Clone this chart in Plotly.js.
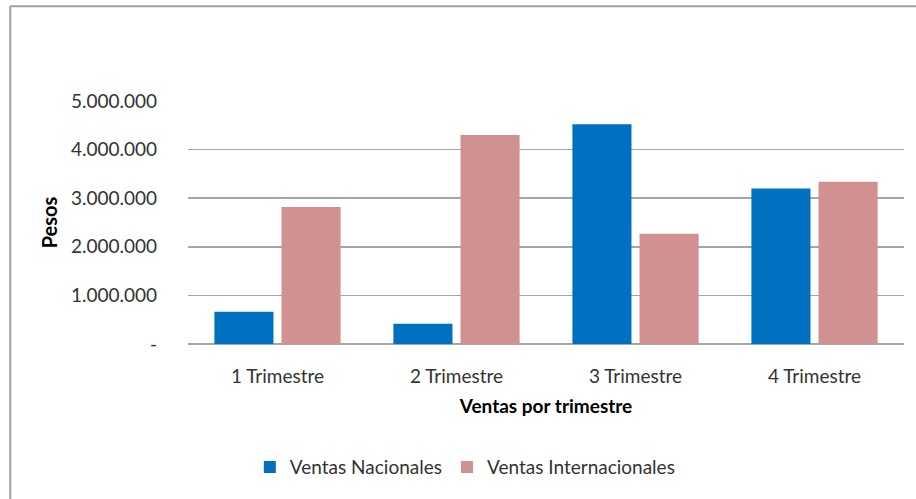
<!DOCTYPE html>
<html>
<head>
<meta charset="utf-8">
<script src="https://cdn.plot.ly/plotly-3.0.1.min.js"></script>
<style>html,body{margin:0;padding:0;background:#fff;}#chart{width:916px;height:499px;}</style>
</head>
<body>
<div id="chart"></div>
<script>
var categories = ["1 Trimestre", "2 Trimestre", "3 Trimestre", "4 Trimestre"];
var ventasNacionales = [665000, 415000, 4520000, 3200000];
var ventasInternacionales = [2820000, 4300000, 2270000, 3340000];
var yTickVals = [0, 1000000, 2000000, 3000000, 4000000, 5000000];
var yTickText = ["-", "1.000.000", "2.000.000", "3.000.000", "4.000.000", "5.000.000"];

var FONT = "Lato";
var traces = [
  {type: "bar", name: "Ventas Nacionales", x: categories, y: ventasNacionales,
   marker: {color: "#0070C0"}},
  {type: "bar", name: "Ventas Internacionales", x: categories, y: ventasInternacionales,
   marker: {color: "#D19191"}}
];
var layout = {
  width: 916, height: 499,
  margin: {l: 188, r: 12, t: 101, b: 155},
  paper_bgcolor: "#fff", plot_bgcolor: "#fff",
  font: {family: FONT, size: 19, color: "#333"},
  barmode: "group", bargap: 0.25, bargroupgap: 0.12,
  showlegend: true,
  legend: {orientation: "h", x: 0.508, xref: "container", xanchor: "center", y: 0.064, yref: "container", yanchor: "middle",
           font: {family: FONT, size: 19, color: "#333"}, traceorder: "normal"},
  xaxis: {
    type: "category", showgrid: false, showline: false, zeroline: false,
    ticks: "outside", ticklen: 15, tickcolor: "rgba(0,0,0,0)",
    tickfont: {family: FONT, size: 19, color: "#333"},
    title: {text: "<b>Ventas por trimestre</b>", font: {family: FONT, size: 19, color: "#000"}, standoff: 13},
    automargin: false, fixedrange: true
  },
  yaxis: {
    range: [0, 5000000], tickvals: yTickVals, ticktext: yTickText,
    showgrid: true, gridcolor: "#A6A6A6", gridwidth: 1.5,
    zeroline: true, zerolinecolor: "#A6A6A6", zerolinewidth: 1.5,
    showline: false, ticks: "", ticklabelstandoff: 30,
    tickfont: {family: FONT, size: 19, color: "#333"},
    title: {text: "<b>Pesos</b>", font: {family: FONT, size: 20, color: "#000"}, standoff: 7},
    automargin: false, fixedrange: true
  },
  shapes: [
    {type: "line", xref: "paper", yref: "paper", x0: -0.2483, x1: 1.02, y0: 1.39, y1: 1.39,
     line: {color: "#A0A0A0", width: 2}},
    {type: "line", xref: "paper", yref: "paper", x0: -0.2483, x1: -0.2483, y0: 1.39, y1: -0.7,
     line: {color: "#A0A0A0", width: 2}}
  ]
};
Plotly.newPlot("chart", traces, layout, {displayModeBar: false, staticPlot: true});
</script>
</body>
</html>
